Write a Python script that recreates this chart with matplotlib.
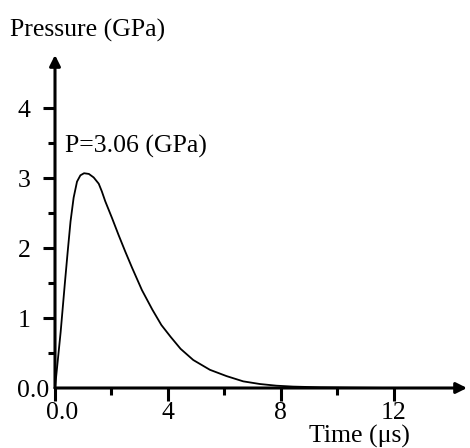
import matplotlib
matplotlib.use("Agg")
import matplotlib.pyplot as plt
from matplotlib.transforms import ScaledTranslation

# ---- data ----
time_us = [0, 0.2, 0.35, 0.45, 0.55, 0.66, 0.78, 0.9, 1.03, 1.2, 1.37, 1.55,
           1.66, 1.78, 2.02, 2.25, 2.49, 2.73, 3.08, 3.45, 3.77, 4.1, 4.45, 4.9,
           5.49, 6.08, 6.67, 7.26, 7.85, 8.44, 9.4, 10.5, 12.0]
pressure_gpa = [0, 0.8, 1.5, 1.95, 2.38, 2.72, 2.95, 3.04, 3.07, 3.06, 3.01, 2.92,
                2.81, 2.67, 2.43, 2.19, 1.95, 1.72, 1.40, 1.12, 0.90, 0.73, 0.56,
                0.40, 0.26, 0.17, 0.095, 0.057, 0.033, 0.02, 0.01, 0.005, 0.0]
x_major = [0, 4, 8, 12]
x_major_labels = ["0.0", "4", "8", "12"]
x_minor = [2, 6, 10]
y_major = [0, 1, 2, 3, 4]
y_major_labels = ["0.0", "1", "2", "3", "4"]
y_minor = [0.5, 1.5, 2.5, 3.5]
peak_label = "P=3.06 (GPa)"

plt.rcParams['font.family'] = ['Liberation Serif', 'DejaVu Serif']
FS = 18.5

W, H = 470, 448
fig = plt.figure(figsize=(W / 100, H / 100), dpi=100)
x0, x1 = 55, 467
y0, y1 = 388, 55
ax = fig.add_axes([x0 / W, 1 - y0 / H, (x1 - x0) / W, (y0 - y1) / H])
xmax, ymax = 14.6, 4.76
ax.set_xlim(0, xmax)
ax.set_ylim(0, ymax)

for s in ax.spines.values():
    s.set_visible(False)

ax.plot(time_us, pressure_gpa, color='black', lw=1.3, solid_joinstyle='round')

# axes with arrows
ax.annotate('', xy=(xmax, 0), xytext=(0, 0), annotation_clip=False,
            arrowprops=dict(arrowstyle='-|>', lw=2.2, color='black',
                            mutation_scale=16, shrinkA=0, shrinkB=0))
ax.annotate('', xy=(0, ymax), xytext=(0, 0), annotation_clip=False,
            arrowprops=dict(arrowstyle='-|>', lw=2.2, color='black',
                            mutation_scale=16, shrinkA=0, shrinkB=0))

ax.set_xticks(x_major)
ax.set_xticklabels(x_major_labels)
ax.set_xticks(x_minor, minor=True)
ax.set_yticks(y_major)
ax.set_yticklabels(y_major_labels)
ax.set_yticks(y_minor, minor=True)

ax.tick_params(axis='both', which='major', length=9, width=2.2, labelsize=FS,
               direction='out', color='black')
ax.tick_params(axis='both', which='minor', length=5, width=2.2, direction='out')
ax.tick_params(axis='x', which='major', pad=1)
ax.tick_params(axis='y', which='major', pad=18)
for lab in ax.get_yticklabels():
    lab.set_horizontalalignment('left')
ax.yaxis.get_major_ticks()[0].tick1line.set_visible(False)
lab0 = ax.xaxis.get_major_ticks()[0].label1
lab0.set_transform(lab0.get_transform()
                   + ScaledTranslation(0.07, 0, fig.dpi_scale_trans))

ax.text(0.35, 3.45, peak_label, fontsize=FS, ha='left', va='center')
fig.text(88 / W, 1 - 30 / H, "Pressure (GPa)", fontsize=FS, ha='center', va='center')
fig.text(359 / W, 1 - 436 / H, "Time (μs)", fontsize=FS, ha='center', va='center')

fig.savefig("out.png", dpi=100)
